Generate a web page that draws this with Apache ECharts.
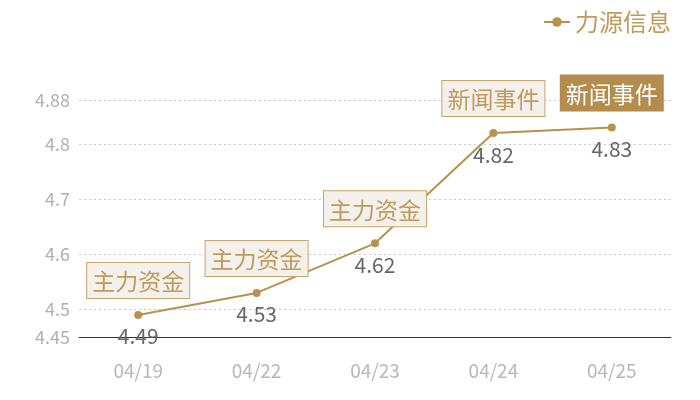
<!DOCTYPE html>
<html>
<head>
<meta charset="utf-8">
<script src="https://cdn.jsdelivr.net/npm/echarts@6/dist/echarts.min.js"></script>
<style>
html, body { margin: 0; padding: 0; background: #fff; }
#box { width: 700px; height: 400px; }
</style>
</head>
<body>
<div id="box"></div>
<script>
var mychart = echarts.init(document.getElementById("box"));
var dates = ['04/19', '04/22', '04/23', '04/24', '04/25'];
var prices = [4.49, 4.53, 4.62, 4.82, 4.83];
var events = ['主力资金', '主力资金', '主力资金', '新闻事件', '新闻事件'];
var highlightIndex = 4;

var font = '"Noto Sans CJK SC", "Noto Sans", sans-serif';
var gold = '#b8914f';

var marks = events.map(function (name, i) {
    var active = i === highlightIndex;
    return {
        coord: [dates[i], prices[i]],
        value: name,
        label: {
            color: active ? '#fff' : '#c09a5b',
            backgroundColor: active ? '#b38c4e' : '#f4f0eb',
            borderColor: active ? '#b38c4e' : '#c9a56c',
            borderWidth: 1
        }
    };
});

var options = {
    color: [gold],
    textStyle: { fontFamily: font },
    legend: {
        right: 24,
        top: 5,
        itemWidth: 26,
        itemHeight: 12,
        itemGap: 6,
        textStyle: { color: '#c09a5b', fontSize: 24, fontFamily: font }
    },
    grid: {
        left: 79,
        right: 29,
        top: 100,
        bottom: 63
    },
    xAxis: {
        type: 'category',
        data: dates,
        axisLine: { lineStyle: { color: '#333' } },
        axisTick: { show: false },
        axisLabel: { color: '#b8b8b8', fontSize: 19, margin: 24, fontFamily: font }
    },
    yAxis: {
        type: 'value',
        min: 4.45,
        max: 4.88,
        axisLine: { show: false },
        axisTick: { show: false },
        axisLabel: { color: '#b0b0b0', fontSize: 18, margin: 9, fontFamily: font },
        splitLine: { lineStyle: { color: '#c8c8c8', type: [2, 3] } }
    },
    series: [{
        name: '力源信息',
        type: 'line',
        data: prices,
        symbol: 'circle',
        symbolSize: 8,
        lineStyle: { width: 2, color: gold },
        itemStyle: { color: gold },
        label: {
            show: true,
            position: 'bottom',
            distance: 7,
            color: '#666',
            fontSize: 21,
            fontFamily: font
        },
        markPoint: {
            symbol: 'circle',
            symbolSize: 0,
            label: {
                show: true,
                position: 'top',
                distance: 17,
                fontSize: 23,
                lineHeight: 27,
                padding: [5, 5, 3, 5],
                fontFamily: font,
                formatter: function (p) { return p.value; }
            },
            data: marks
        }
    }]
};

mychart.setOption(options);
</script>
</body>
</html>
